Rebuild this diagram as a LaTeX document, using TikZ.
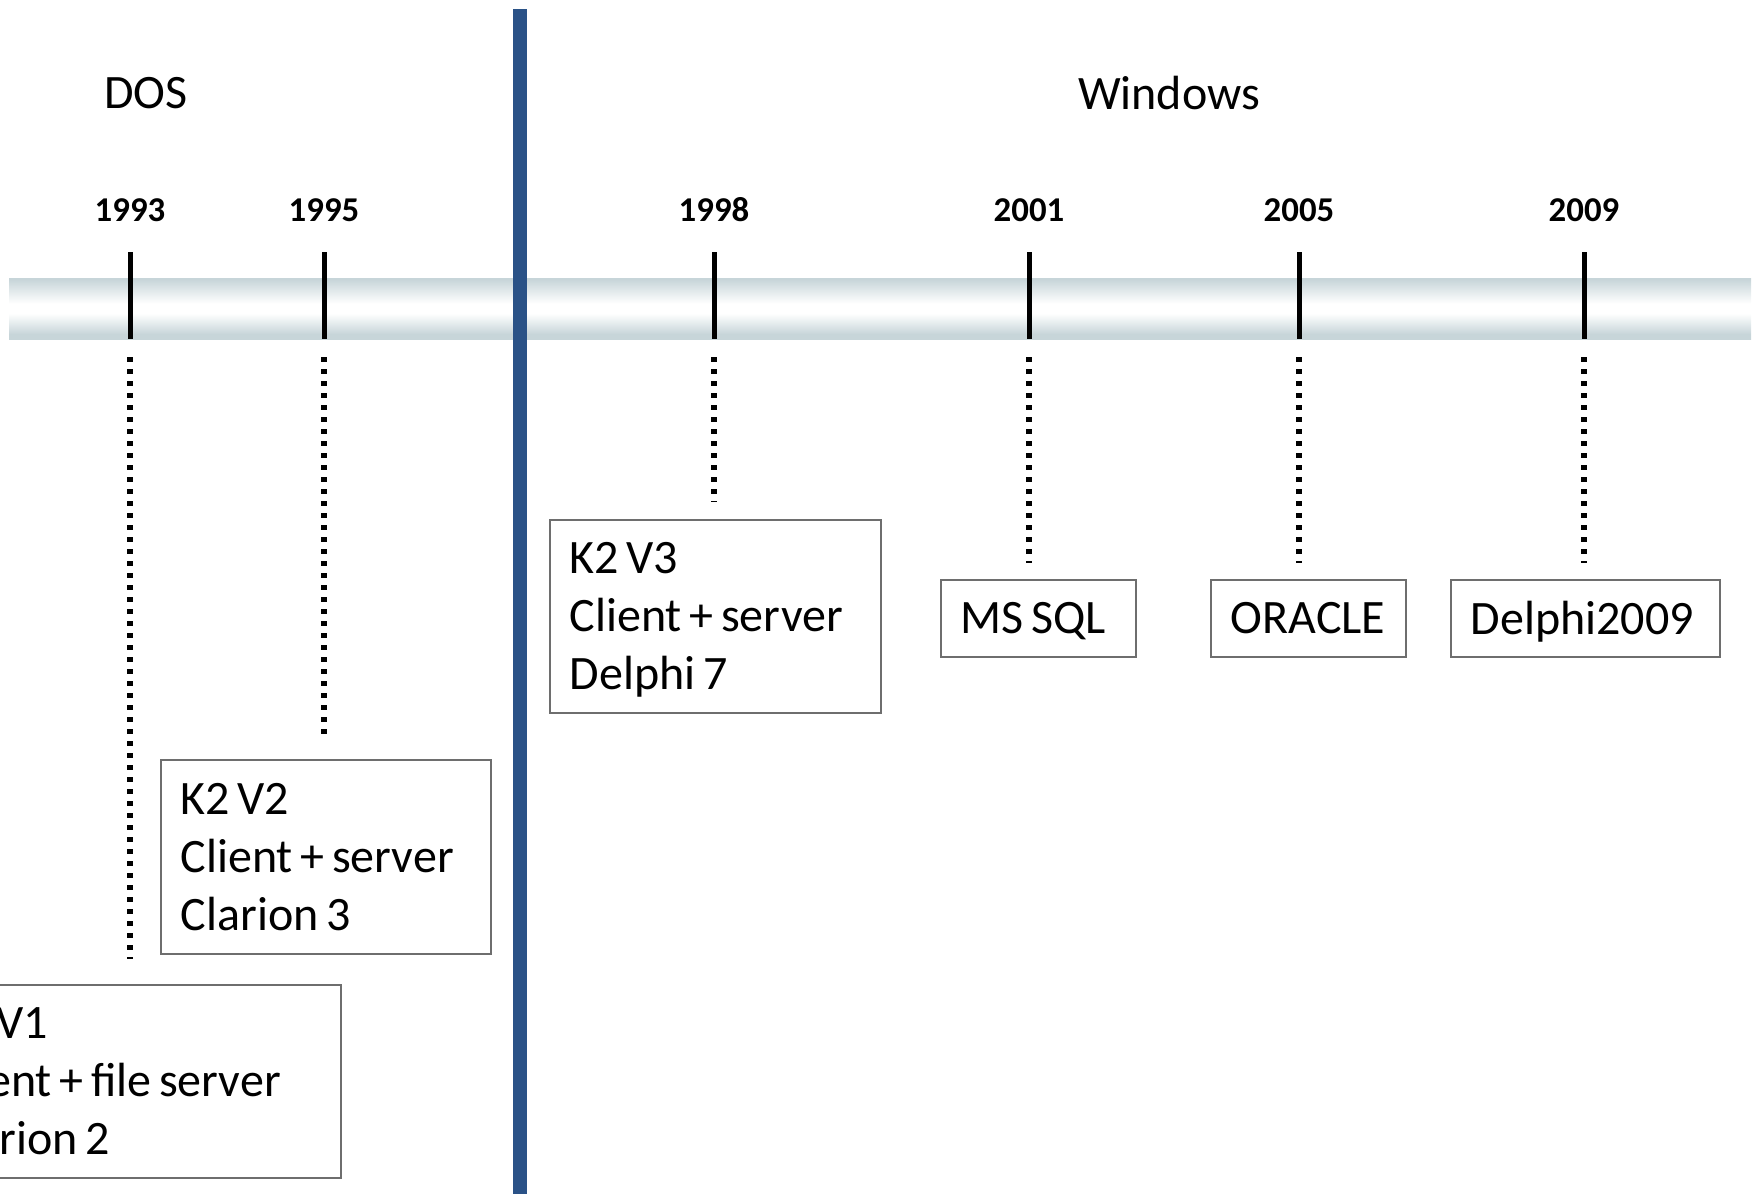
\documentclass[tikz,border=0pt]{standalone}
\usepackage{fontspec}
\setmainfont{Carlito}
\usetikzlibrary{calc}
\definecolor{bandc}{RGB}{199,213,217}
\definecolor{barblue}{RGB}{42,82,135}
\definecolor{boxgray}{RGB}{110,110,110}
\pgfdeclareverticalshading{bandshade}{100bp}{color(0bp)=(bandc); color(29bp)=(bandc); color(46bp)=(white); color(54bp)=(white); color(74bp)=(bandc); color(100bp)=(bandc)}
\newcommand{\nodesc}[1]{\raisebox{0pt}[\height][0pt]{#1}}
\newcommand{\boxtextfont}{\fontsize{24pt}{29pt}\selectfont}
\newcommand{\ws}{\hspace{3.8pt}}
\begin{document}
\begin{tikzpicture}[x=0.5pt,y=-0.5pt,
  bandbox/.style={rectangle, inner sep=0pt, shading=bandshade, minimum width=871pt, minimum height=30.5pt},
  tickline/.style={line width=2.5pt, black},
  yearlbl/.style={font=\bfseries\fontsize{17.4pt}{20pt}\selectfont, inner sep=0pt},
  oslbl/.style={font=\fontsize{24pt}{29pt}\selectfont, inner sep=0pt},
  dotline/.style={line width=2.6pt, dash pattern=on 2.2pt off 3.8pt, black},
  barline/.style={line width=7pt, barblue},
  infobox/.style={draw=boxgray, line width=0.75pt, fill=white, anchor=north west, inner xsep=10pt, inner ysep=0pt, align=left, font={\boxtextfont}}
]
\useasboundingbox (0,0) rectangle (1758,1194);
\clip (0,0) rectangle (1758,1194);

% timeline band
\node[bandbox] (band) at (880,308.5) {};

% ticks
\coordinate (t93) at (130,252);
\coordinate (t95) at (324,252);
\coordinate (t98) at (714,252);
\coordinate (t01) at (1029,252);
\coordinate (t05) at (1299,252);
\coordinate (t09) at (1584,252);
\foreach \t in {t93,t95,t98,t01,t05,t09}
  \draw[tickline] (\t) -- (\t |- band.south);

% year labels
\node[yearlbl] (y93) at (130,210) {1993};
\node[yearlbl] (y95) at (324,210) {1995};
\node[yearlbl] (y98) at (714,210) {1998};
\node[yearlbl] (y01) at (1029,210) {2001};
\node[yearlbl] (y05) at (1299,210) {2005};
\node[yearlbl] (y09) at (1584,210) {2009};

% OS labels
\node[oslbl] (dos) at (146,93) {DOS};
\node[oslbl] (win) at (1169,93) {Windows};

% boxes
\node[infobox, text width=190.5pt, minimum height=96.5pt] (v1) at (-81,984) {K2\ws V1\\Client\ws +\ws file\ws server\\Clarion\ws 2};
\node[infobox, text width=145pt, minimum height=97pt] (v2) at (160,759) {K2\ws V2\\Client\ws +\ws server\\Clarion\ws 3};
\node[infobox, text width=145.5pt, minimum height=96.5pt] (v3) at (549,519) {K2\ws V3\\Client\ws +\ws server\\\nodesc{Delphi\ws 7}};
\node[infobox, text width=77.5pt, minimum height=38.5pt] (ms) at (940,579) {\nodesc{MS\ws SQL}};
\node[infobox, text width=77.5pt, minimum height=38.5pt] (ora) at (1210,579) {ORACLE};
\node[infobox, text width=114.5pt, minimum height=38.5pt] (dl) at (1450,579) {\nodesc{Delphi2009}};

% dotted connectors
\draw[dotline] ($(t93 |- band.south)+(0,18)$) -- ($(t93 |- v1.north)+(0,-25)$);
\draw[dotline] ($(t95 |- band.south)+(0,18)$) -- ($(t95 |- v2.north)+(0,-21)$);
\draw[dotline] ($(t98 |- band.south)+(0,18)$) -- ($(t98 |- v3.north)+(0,-17)$);
\draw[dotline] ($(t01 |- band.south)+(0,18)$) -- ($(t01 |- ms.north)+(0,-16)$);
\draw[dotline] ($(t05 |- band.south)+(0,18)$) -- ($(t05 |- ora.north)+(0,-16)$);
\draw[dotline] ($(t09 |- band.south)+(0,18)$) -- ($(t09 |- dl.north)+(0,-16)$);

% divider bar
\coordinate (bartop) at (520,9);
\coordinate (barbot) at (520,1200);
\draw[barline] (bartop) -- (barbot);
\end{tikzpicture}
\end{document}
